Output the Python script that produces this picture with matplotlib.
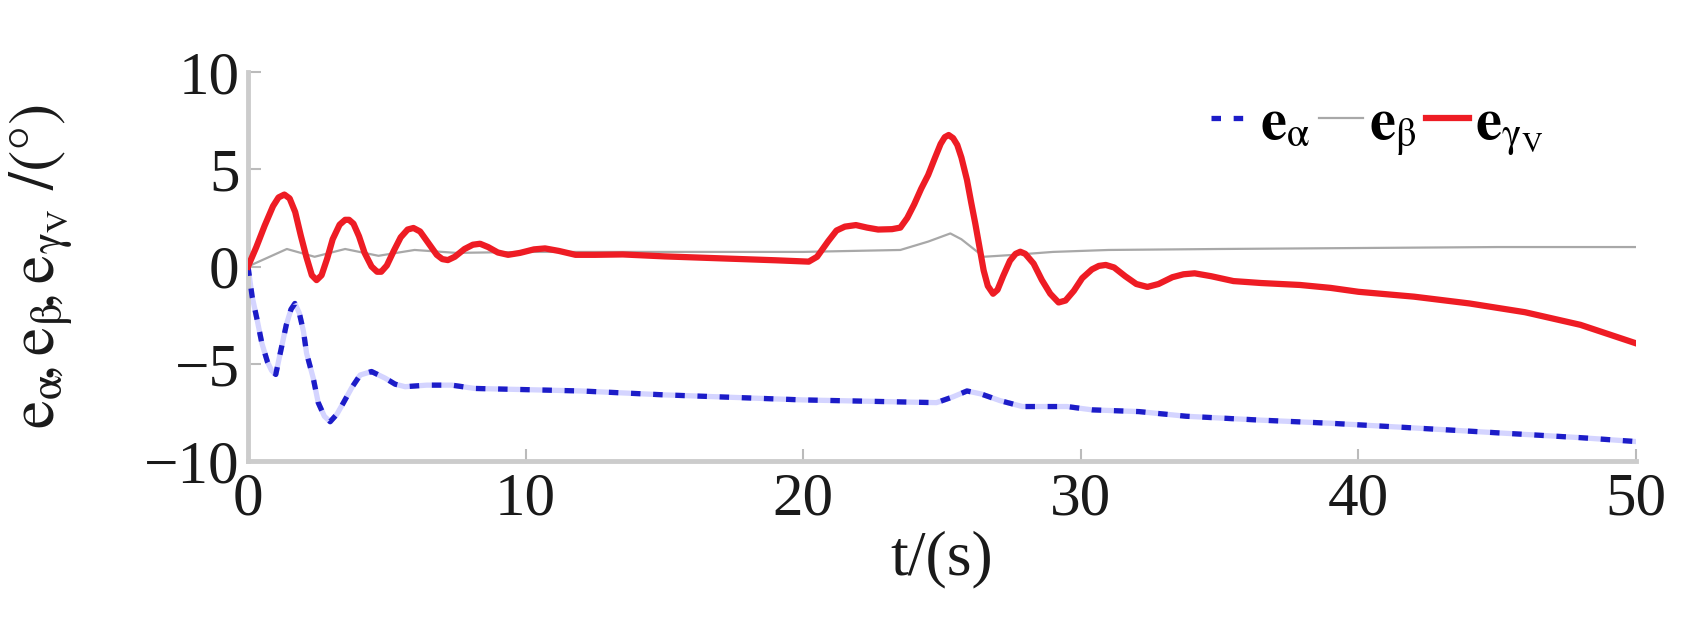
import matplotlib
matplotlib.use("Agg")
import matplotlib.pyplot as plt
from matplotlib.ticker import FuncFormatter

# ---- data ----
t_gamma = [0, 0.3, 0.6, 0.9, 1.1, 1.31, 1.5, 1.7, 1.9, 2.1, 2.3, 2.47, 2.65, 2.85, 3.05, 3.3,
           3.5, 3.64, 3.8, 4.0, 4.2, 4.45, 4.65, 4.8, 5.0, 5.25, 5.5, 5.75, 5.96, 6.2, 6.5,
           6.8, 7.0, 7.2, 7.45, 7.8, 8.1, 8.36, 8.65, 9.0, 9.37, 9.8, 10.3, 10.7, 11.2, 11.8,
           12.5, 13.5, 15, 17, 19, 20.2, 20.5, 20.9, 21.2, 21.5, 21.9, 22.3, 22.7, 23.2,
           23.5, 23.75, 24.0, 24.25, 24.5, 24.75, 24.95, 25.1, 25.24, 25.4, 25.55, 25.7,
           25.9, 26.05, 26.2, 26.35, 26.5, 26.65, 26.84, 27.0, 27.2, 27.45, 27.65, 27.82,
           28.0, 28.3, 28.6, 28.9, 29.2, 29.45, 29.75, 30.05, 30.4, 30.65, 30.9, 31.2, 31.6,
           32.0, 32.4, 32.8, 33.3, 33.7, 34.1, 34.7, 35.5, 36.5, 37.9, 39, 40, 42, 44, 46,
           48, 50]
e_gamma = [0, 1.0, 2.1, 3.1, 3.55, 3.7, 3.5, 2.8, 1.6, 0.5, -0.45, -0.7, -0.45, 0.4, 1.4, 2.15,
           2.4, 2.4, 2.2, 1.55, 0.7, 0.0, -0.27, -0.27, 0.05, 0.8, 1.5, 1.9, 1.98, 1.8, 1.2,
           0.6, 0.38, 0.33, 0.5, 0.9, 1.12, 1.17, 1.0, 0.72, 0.6, 0.7, 0.88, 0.93, 0.8, 0.6,
           0.6, 0.62, 0.52, 0.42, 0.32, 0.25, 0.5, 1.3, 1.85, 2.05, 2.13, 2.0, 1.9, 1.92,
           2.0, 2.5, 3.2, 4.0, 4.7, 5.6, 6.3, 6.65, 6.76, 6.6, 6.25, 5.6,
           4.45, 3.3, 2.2, 1.0, -0.2, -1.0, -1.4, -1.2, -0.5, 0.3, 0.65, 0.76,
           0.65, 0.15, -0.7, -1.4, -1.85, -1.75, -1.25, -0.6, -0.15, 0.03, 0.08, -0.05, -0.5,
           -0.9, -1.05, -0.9, -0.55, -0.4, -0.35, -0.5, -0.75, -0.85, -0.95, -1.1, -1.3, -1.55, -1.9, -2.35,
           -3.0, -3.95]

t_beta = [0, 0.7, 1.4, 2.4, 3.5, 4.7, 6, 7.5, 10, 15, 20, 23.5, 24.5, 25.3, 25.7, 26.5,
          27.6, 29, 31, 35, 40, 45, 50]
e_beta = [0, 0.45, 0.9, 0.5, 0.9, 0.55, 0.85, 0.7, 0.75, 0.75, 0.75, 0.85, 1.28, 1.7, 1.4, 0.5,
          0.6, 0.75, 0.85, 0.9, 0.95, 1.0, 1.0]

t_alpha = [0, 0.15, 0.33, 0.5, 0.7, 0.85, 1.0, 1.2, 1.38, 1.55, 1.69, 1.85, 2.0, 2.11, 2.35,
           2.53, 2.75, 2.96, 3.2, 3.44, 3.75, 4.04, 4.45, 4.94, 5.3, 5.66, 6.44, 7.34, 8.17,
           10, 12, 15, 20, 24.8, 25.4, 25.9, 26.4, 27.1, 27.9, 29.5, 30.4, 32.1, 33.8, 36.5,
           39, 42, 45, 48, 50]
e_alpha = [0, -1.55, -2.75, -3.95, -4.9, -5.35, -5.55, -4.2, -3.0, -2.2, -1.9, -2.4, -3.35, -4.46, -5.74,
           -7.0, -7.7, -7.98, -7.6, -7.0, -6.2, -5.58, -5.4, -5.74, -6.05, -6.18, -6.1, -6.1, -6.27,
           -6.33, -6.4, -6.6, -6.86, -7.0, -6.7, -6.4, -6.55, -6.9, -7.2, -7.2, -7.37, -7.46, -7.7, -7.9,
           -8.06, -8.3, -8.55, -8.8, -9.0]

x_ticks = [0, 10, 20, 30, 40, 50]
y_ticks = [-10, -5, 0, 5, 10]

labels = [r'$\mathbf{e}_{\mathrm{α}}$', r'$\mathbf{e}_{\mathrm{β}}$',
          r'$\mathbf{e}_{\mathrm{γ}_{\mathrm{V}}}$']
xlabel = 't/(s)'
ylabel = r'$\mathrm{e}_{\mathrm{α}}\!,\mathrm{e}_{\mathrm{β}}\!,\mathrm{e}_{\mathrm{γ}_{\mathrm{V}}}\ /(°)$'

# ---- style ----
plt.rcParams['font.family'] = ['Liberation Serif', 'DejaVu Serif']
plt.rcParams['mathtext.fontset'] = 'stix'

W, H = 1702, 618
fig = plt.figure(figsize=(W / 100, H / 100), dpi=100)
L, R, T, B = 248, 1636, 72, 461
ax = fig.add_axes([L / W, 1 - B / H, (R - L) / W, (B - T) / H])

# blue dotted series with pale halo
ax.plot(t_alpha, e_alpha, color='#d4d4ff', lw=3.8, zorder=2)
la, = ax.plot(t_alpha, e_alpha, color='#1c1cc8', lw=3.8, linestyle=(0, (1.8, 2.4)), zorder=3)
lb, = ax.plot(t_beta, e_beta, color='#a8a8a8', lw=1.6, zorder=3)
lg, = ax.plot(t_gamma, e_gamma, color='#ee1c24', lw=4.5, zorder=4,
              solid_joinstyle='round')

ax.set_xlim(0, 50)
ax.set_ylim(-10, 10)
ax.set_xticks(x_ticks)
ax.set_yticks(y_ticks)

def fmt(v, pos):
    return ('\u2212%d' % abs(v)) if v < 0 else '%d' % v

ax.yaxis.set_major_formatter(FuncFormatter(fmt))

for s in ['top', 'right']:
    ax.spines[s].set_visible(False)
for s in ['left', 'bottom']:
    ax.spines[s].set_color('#cccccc')
    ax.spines[s].set_linewidth(3.5)

ax.tick_params(direction='in', length=9, width=1.5, color='#bbbbbb',
               labelsize=44, labelcolor='#1a1a1a')
ax.tick_params(axis='y', pad=6)
ax.tick_params(axis='x', pad=8)

ax.set_xlabel(xlabel, fontsize=46, color='#1a1a1a', labelpad=2)
ax.set_ylabel(ylabel, fontsize=46, color='#1a1a1a')
ax.yaxis.set_label_coords(-0.125, 0.5)

leg = fig.legend([la, lb, lg], labels, loc='upper right',
                 bbox_to_anchor=(1544 / W, 1 - 98 / H), ncol=3, frameon=False,
                 fontsize=42, handlelength=0.75, handletextpad=0.1,
                 columnspacing=0.15, borderaxespad=0, borderpad=0)

fig.savefig('out.png', dpi=100, facecolor='white')
